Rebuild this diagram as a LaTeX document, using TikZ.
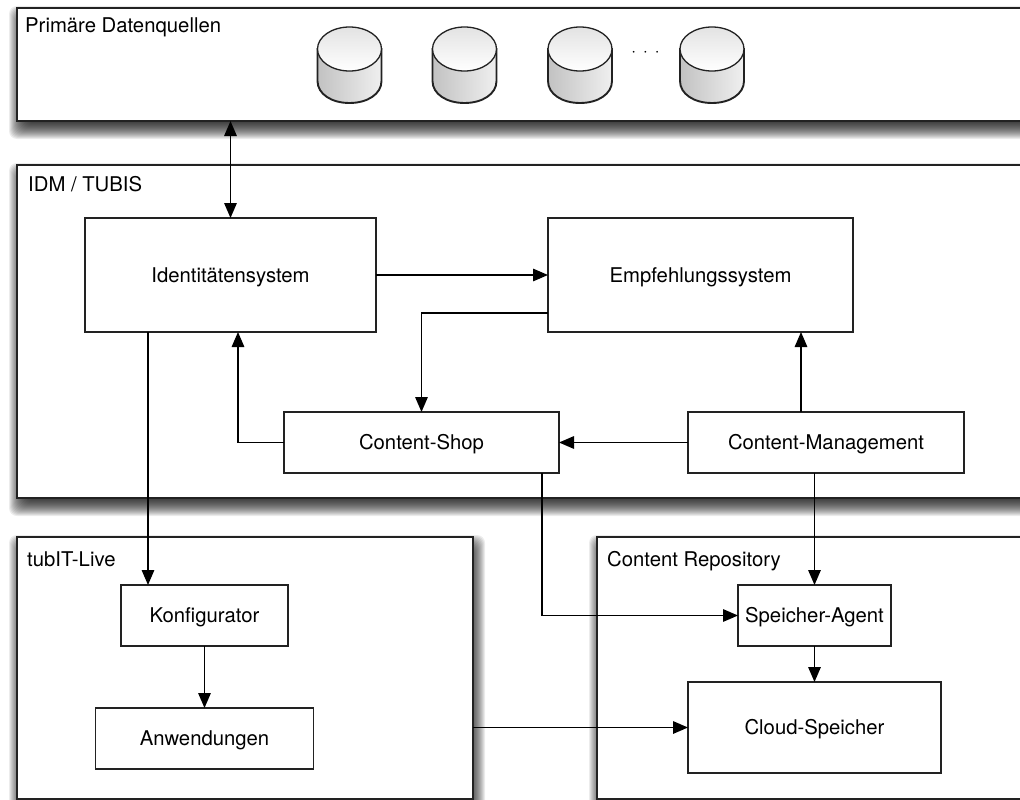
\documentclass[tikz,border=0pt]{standalone}
\usepackage{fontspec}
\setmainfont{TeX Gyre Heros}
\usetikzlibrary{arrows.meta}
\usetikzlibrary{positioning}
\usetikzlibrary{backgrounds}
\usetikzlibrary{calc}
\definecolor{inkline}{HTML}{222222}
\tikzset{
  panel/.style={draw=inkline,fill=white,line width=1.8pt,outer sep=0pt,inner sep=0pt},
  box/.style={draw=inkline,fill=white,line width=1.6pt,outer sep=0pt,inner sep=0pt,
    text height=17pt,text depth=3pt,font=\fontsize{20.3}{24}\selectfont},
  title/.style={anchor=base west,inner sep=0pt,font=\fontsize{20.3}{24}\selectfont},
  flow/.style={draw=black,line width=1.5pt,-{Triangle[length=15pt,width=12.5pt]}},
  dbbody/.style={draw=inkline,line width=1.9pt,left color=black!24,right color=black!6},
  dbtop/.style={draw=inkline,line width=1.3pt,top color=black!11,bottom color=white}
}
\begin{document}
\begin{tikzpicture}[x=1pt,y=-1pt]
    \useasboundingbox (0,0) rectangle (1020,800);
    \node[panel,minimum width=1040pt,minimum height=113pt] (sources) at (537,64.5) {};
    \node[panel,minimum width=1040pt,minimum height=333pt] (idm) at (537,331.5) {};
    \node[panel,minimum width=456pt,minimum height=262pt] (live) at (245,668) {};
    \node[panel,minimum width=460pt,minimum height=262pt] (repo) at (827,668) {};
    \begin{scope}[on background layer]
      \foreach \p in {sources,idm,live,repo}
        \foreach \r in {-6,...,10}
          \fill[black,opacity=.075,rounded corners=8pt]
            ($(\p.south west)+(2-\r,8+\r)$) rectangle ($(\p.north east)+(2+\r,8-\r)$);
    \end{scope}
    \node[title] (sourcestitle) at (25,33) {Primäre Datenquellen};
    \node[title] (idmtitle) at (28,191) {IDM / TUBIS};
    \node[title] (livetitle) at (27,566) {tubIT-Live};
    \node[title] (repotitle) at (607,566) {Content Repository};
    \coordinate (dba) at (349.5,65);
    \coordinate (dbb) at (464.5,65);
    \coordinate (dbc) at (580,65);
    \coordinate (dbd) at (712,65);
    \foreach \d in {dba,dbb,dbc,dbd} {
      \draw[dbbody] ($(\d)+(-32,-16)$) -- ($(\d)+(-32,16)$)
        .. controls ($(\d)+(-32,29)$) and ($(\d)+(-18,38)$) .. ($(\d)+(0,38)$)
        .. controls ($(\d)+(18,38)$) and ($(\d)+(32,29)$) .. ($(\d)+(32,16)$)
        -- ($(\d)+(32,-16)$) -- cycle;
      \draw[dbtop] ($(\d)+(0,-16)$) ellipse [x radius=32,y radius=22];
    }
    \node[inner sep=0pt,font=\fontsize{17}{17}\selectfont] (dots) at (645.5,54) {·\hspace{7pt}·\hspace{7pt}·};
    \node[box,minimum width=291pt,minimum height=114pt] (ident) at (230.5,275) {Identitätensystem};
    \node[box,minimum width=305pt,minimum height=114pt,right=172pt of ident] (empf) {Empfehlungssystem};
    \node[box,minimum width=275pt,minimum height=61pt] (shop) at (421.5,442.5) {Content-Shop};
    \node[box,minimum width=276pt,minimum height=61pt,right=129pt of shop] (mgmt) {Content-Management};
    \node[box,minimum width=167pt,minimum height=61pt] (konfig) at (204.5,615.5) {Konfigurator};
    \node[box,minimum width=218pt,minimum height=61pt,below=62pt of konfig] (anw) {Anwendungen};
    \node[box,minimum width=153pt,minimum height=61pt] (agent) at (814.5,615.5) {Speicher-Agent};
    \node[box,minimum width=253pt,minimum height=91pt,below=36pt of agent] (cloud) {Cloud-Speicher};
    \draw[flow,{Triangle[length=15pt,width=12.5pt]}-{Triangle[length=15pt,width=12.5pt]}]
      (sources.south -| ident.north) -- (ident.north);
    \draw[flow] (ident.east |- empf.west) -- (empf.west);
    \draw[flow] ([yshift=-38pt]empf.west) -| (shop.north);
    \draw[flow] (shop.west) -| ([xshift=7.5pt]ident.south);
    \draw[flow] ([xshift=-25pt]mgmt.north) -- ([xshift=100.5pt]empf.south);
    \draw[flow] (mgmt.west) -- (shop.east);
    \draw[flow] ([xshift=-82.5pt]ident.south) -- ([xshift=-56.5pt]konfig.north);
    \draw[flow] (konfig.south) -- (konfig.south |- anw.north);
    \draw[flow] ([xshift=120.5pt]shop.south) |- (agent.west);
    \draw[flow] (mgmt.south -| agent.north) -- (agent.north);
    \draw[flow] (agent.south) -- (agent.south |- cloud.north);
    \draw[flow] (live.east |- cloud.west) -- (cloud.west);
\end{tikzpicture}
\end{document}
